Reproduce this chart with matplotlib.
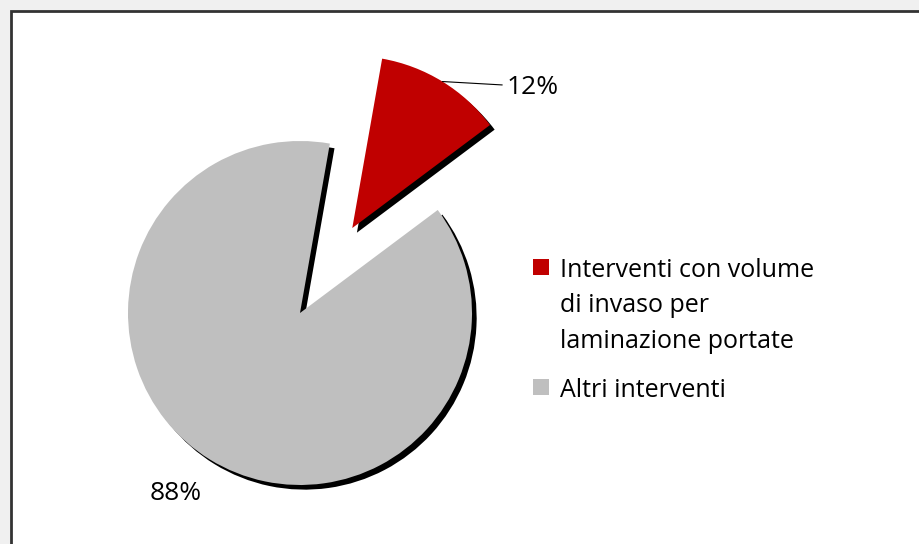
import numpy as np
import matplotlib
matplotlib.use('Agg')
import matplotlib.pyplot as plt
from matplotlib.patches import Rectangle

# Dati del grafico
categorie = ['Interventi con volume\ndi invaso per\nlaminazione portate', 'Altri interventi']
valori = [12, 88]
colori = ['#c00000', '#bfbfbf']
etichette = ['12%', '88%']

plt.rcParams['font.family'] = ['Open Sans', 'DejaVu Sans']

W, H = 920, 544
fig = plt.figure(figsize=(W/100, H/100), dpi=100)
fig.patch.set_facecolor('#f0f0f0')

# riquadro bianco con bordo scuro
fig.patches.append(Rectangle((11/W, -0.1), 1.1, (H-11)/H + 0.1, transform=fig.transFigure,
                             facecolor='white', edgecolor='#333333', linewidth=2, zorder=-5))

# assi posizionati in pixel: centro torta (300,313), raggio 172 px
cx, cy, R = 300, 313, 172
half = 1.6*R
ax = fig.add_axes([(cx-half)/W, (H-cy-half)/H, 2*half/W, 2*half/H])
ax.patch.set_visible(False)

esplodi = [0.58, 0]
sh = 0.027
# ombra
ax.pie(valori, colors=['black', 'black'], startangle=80, counterclock=False,
       explode=esplodi, center=(sh, -sh), radius=1, frame=True)
wedges, _ = ax.pie(valori, colors=colori, startangle=80, counterclock=False,
                   explode=esplodi, radius=1, frame=True)
ax.set_xlim(-1.6, 1.6)
ax.set_ylim(-1.6, 1.6)
ax.axis('off')

# etichette percentuali
w = wedges[0]
mid = np.deg2rad((w.theta1 + w.theta2) / 2)
arc = (w.center[0] + w.r*np.cos(mid), w.center[1] + w.r*np.sin(mid))
ax.annotate(etichette[0], xy=arc, xytext=(1.2, 1.31), ha='left', va='center', fontsize=19,
            arrowprops=dict(arrowstyle='-', color='black', lw=0.8, shrinkA=1, shrinkB=0,
                            relpos=(0, 0.6)))

w = wedges[1]
mid = np.deg2rad((w.theta1 + w.theta2) / 2)
ax.annotate(etichette[1], xy=(w.center[0] + 1.27*np.cos(mid), w.center[1] + 1.27*np.sin(mid)),
            xytext=(-7, 4), textcoords='offset points', ha='center', va='center', fontsize=19)

# legenda (disegnata a mano: simbolo allineato alla prima riga)
interlinea = 35.5
y_base = 277
for col, lab in zip(colori, categorie):
    fig.patches.append(Rectangle((533/W, 1 - (y_base - 2)/H), 16/W, 16/H,
                                 transform=fig.transFigure, facecolor=col, edgecolor='none'))
    righe = lab.split('\n')
    for i, r in enumerate(righe):
        fig.text(560/W, 1 - (y_base + i*interlinea)/H, r, fontsize=18,
                 ha='left', va='baseline')
    y_base += len(righe)*interlinea + 13.5

plt.savefig('out.png', dpi=100, facecolor=fig.get_facecolor())
